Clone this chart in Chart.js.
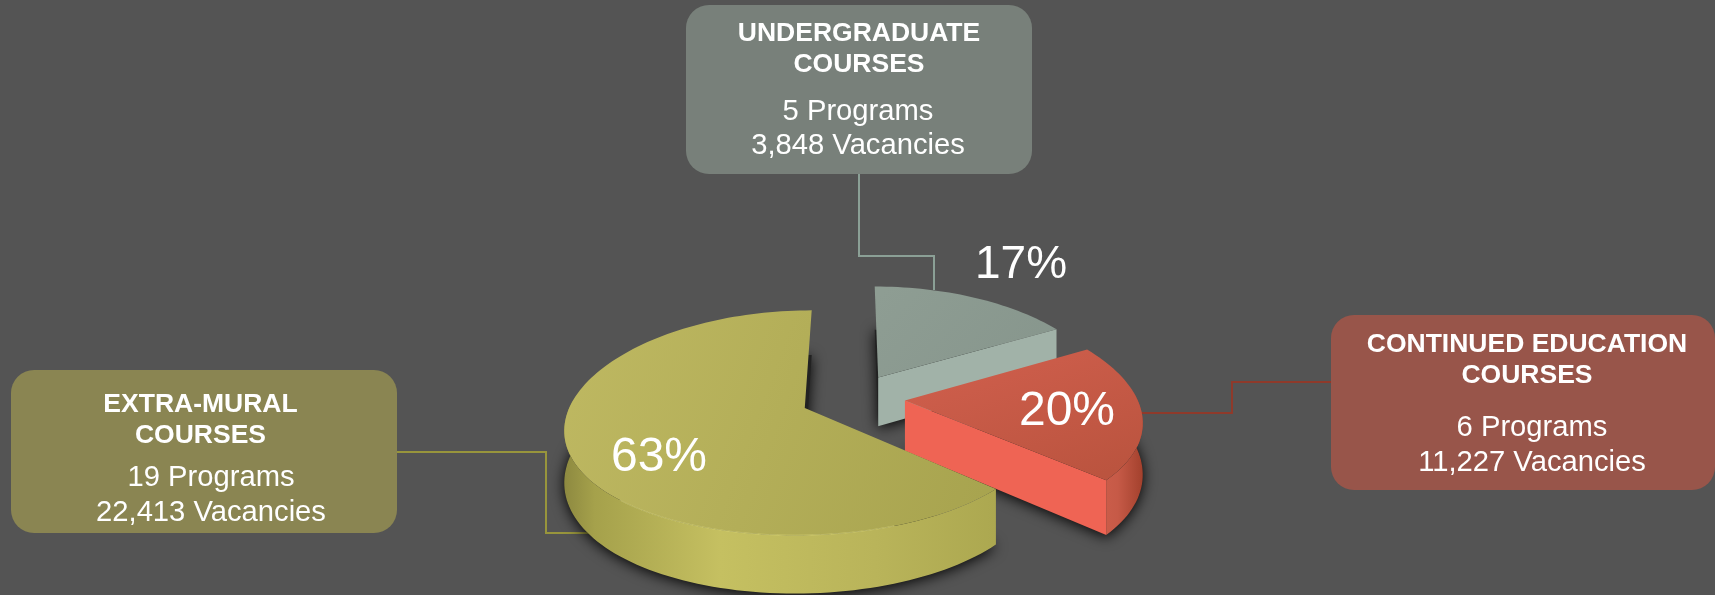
<!DOCTYPE html>
<html>
<head>
<meta charset="utf-8">
<title>Courses</title>
<script src="https://cdn.jsdelivr.net/npm/chart.js@4/dist/chart.umd.min.js"></script>
<style>
    html, body { margin: 0; padding: 0; background: #545454; }
    canvas { display: block; }
</style>
</head>
<body>
<canvas id="coursesChart" width="1715" height="595"></canvas>
<script>
// data
const categories = ['UNDERGRADUATE COURSES', 'CONTINUED EDUCATION COURSES', 'EXTRA-MURAL COURSES'];
const programs = [5, 6, 19];
const vacancies = [3848, 11227, 22413];

// slice colours
const topColors = [['#8e9d93', '#84938a'], ['#d05f4d', '#bb543f'], ['#bfb962', '#a8a44f']];
const frontColors = ['#a1b2a8', '#ef6454', '#aeaa50'];
const rimColors = [
    [[0, '#8d9c92'], [1, '#8d9c92']],
    [[0, '#d0604d'], [0.55, '#c65a47'], [1, '#a3412d']],
    [[0, '#8d8940'], [0.07, '#a5a14b'], [0.36, '#c5c061'], [0.72, '#b9b45a'], [1, '#aca850']]
];

// callout boxes, one per category
const boxes = [
    {
        rect: [686, 5, 346, 169], fill: '#78807a', line: '#8ba096',
        path: [[859, 174], [859, 256], [934, 256], [934, 290]],
        title: [['UNDERGRADUATE', 859, 41], ['COURSES', 859, 72]],
        body: [[858, 120], [858, 154]]
    },
    {
        rect: [1331, 315, 384, 175], fill: '#98554a', line: '#8f3a2b',
        path: [[1331, 382], [1232, 382], [1232, 413], [1140, 413]],
        title: [['CONTINUED EDUCATION', 1527, 352], ['COURSES', 1527, 383]],
        body: [[1532, 436], [1532, 471]]
    },
    {
        rect: [11, 370, 386, 163], fill: '#8a8552', line: '#98953c',
        path: [[397, 452], [546, 452], [546, 533], [610, 533]],
        title: [['EXTRA-MURAL', 200.5, 412], ['COURSES', 200.5, 443]],
        body: [[211, 486], [211, 521]]
    }
];

// where each percent goes
const percentSpots = [[1021, 278, 46], [1067, 425, 48], [659, 471, 48]];

// tilt and perspective of the fake 3D
const TILT = 0.465;
const DEPTH = 1780;
const DEPTH_X = 1400;
const THICK = 50;

function project(el, u, v, z) {
    const s = 1 / (1 - v / DEPTH);
    const sx = 1 / (1 - v / DEPTH_X);
    return [el.x + u * sx, el.y + TILT * v * s + z * s];
}

// frontOnly leaves out the part of the rim that faces away from us
function rimPoints(el, z, reverse, frontOnly) {
    const off = el.options.offset;
    const mid = (el.startAngle + el.endAngle) / 2;
    const n = Math.ceil((el.endAngle - el.startAngle) / 0.03);
    const pts = [];
    for (let i = 0; i <= n; i++) {
        const a = el.startAngle + (el.endAngle - el.startAngle) * i / n;
        if (frontOnly && Math.sin(a) < -0.1) continue;
        pts.push(project(el,
            Math.cos(a) * el.outerRadius + Math.cos(mid) * off,
            Math.sin(a) * el.outerRadius + Math.sin(mid) * off, z));
    }
    return reverse ? pts.reverse() : pts;
}

function apexPoint(el, z) {
    const off = el.options.offset;
    const mid = (el.startAngle + el.endAngle) / 2;
    return project(el, Math.cos(mid) * off, Math.sin(mid) * off, z);
}

function fillPoly(ctx, pts, fill) {
    ctx.beginPath();
    pts.forEach((p, i) => i ? ctx.lineTo(p[0], p[1]) : ctx.moveTo(p[0], p[1]));
    ctx.closePath();
    ctx.fillStyle = fill;
    ctx.fill();
}

function drawSlice(ctx, el, i) {
    const top = rimPoints(el, 0, false, false);
    const bottom = rimPoints(el, THICK, true, false);
    const xs = top.map(p => p[0]);
    const minX = Math.min(...xs);
    const maxX = Math.max(...xs);

    // curved wall
    const rim = ctx.createLinearGradient(minX, 0, maxX, 0);
    rimColors[i].forEach(s => rim.addColorStop(s[0], s[1]));
    const wallTop = rimPoints(el, 0, false, true);
    if (wallTop.length) {
        fillPoly(ctx, wallTop.concat(rimPoints(el, THICK, true, true)), rim);
    }

    // straight wall, only the slices whose end wall faces us
    const apex = apexPoint(el, 0);
    if (i < 2) {
        fillPoly(ctx, [apex, top[top.length - 1], bottom[0], apexPoint(el, THICK)], frontColors[i]);
    }

    // top face
    const face = ctx.createLinearGradient(minX, 300, maxX, 460);
    face.addColorStop(0, topColors[i][0]);
    face.addColorStop(1, topColors[i][1]);
    fillPoly(ctx, top.concat([apex]), face);

    // light rim on the yellow front edge
    if (i === 2) {
        const edge = top.filter(p => p[1] > 500 && p[0] < 900);
        ctx.strokeStyle = 'rgba(226,222,130,0.55)';
        ctx.lineWidth = 1;
        ctx.beginPath();
        edge.forEach((p, k) => k ? ctx.lineTo(p[0], p[1]) : ctx.moveTo(p[0], p[1]));
        ctx.stroke();
    }
}

function drawBox(ctx, box, i) {
    ctx.strokeStyle = box.line;
    ctx.lineWidth = 2;
    ctx.beginPath();
    box.path.forEach((p, k) => k ? ctx.lineTo(p[0], p[1]) : ctx.moveTo(p[0], p[1]));
    ctx.stroke();

    ctx.fillStyle = box.fill;
    ctx.beginPath();
    ctx.roundRect(box.rect[0], box.rect[1], box.rect[2], box.rect[3], 23);
    ctx.fill();

    ctx.fillStyle = '#ffffff';
    ctx.textAlign = 'center';
    ctx.textBaseline = 'alphabetic';
    ctx.font = 'bold 26.5px "Liberation Sans"';
    box.title.forEach(t => ctx.fillText(t[0], t[1], t[2]));
    ctx.font = '29.2px "Liberation Sans"';
    ctx.fillText(programs[i] + ' Programs', box.body[0][0], box.body[0][1]);
    ctx.fillText(vacancies[i].toLocaleString('en-US') + ' Vacancies', box.body[1][0], box.body[1][1]);
}

const pie3d = {
    id: 'pie3d',
    beforeDatasetsDraw(chart) {
        const ctx = chart.ctx;
        const arcs = chart.getDatasetMeta(0).data;
        const total = programs.reduce((a, b) => a + b, 0);

        ctx.save();
        boxes.forEach((box, i) => drawBox(ctx, box, i));

        // soft shadow under the slices
        arcs.forEach(el => {
            ctx.save();
            ctx.shadowColor = 'rgba(0,0,0,0.95)';
            ctx.shadowBlur = 14;
            ctx.shadowOffsetY = 2;
            fillPoly(ctx, rimPoints(el, THICK, false, false).concat([apexPoint(el, THICK)]), '#222222');
            ctx.restore();
        });

        // back to front: gray, red, yellow
        arcs.forEach((el, i) => drawSlice(ctx, el, i));

        ctx.fillStyle = '#ffffff';
        ctx.textAlign = 'center';
        programs.forEach((v, i) => {
            const spot = percentSpots[i];
            ctx.font = spot[2] + 'px "Liberation Sans"';
            ctx.fillText(Math.round(v / total * 100) + '%', spot[0], spot[1]);
        });
        ctx.restore();
        return false;
    }
};

new Chart(document.getElementById('coursesChart').getContext('2d'), {
    type: 'pie',
    data: {
        labels: categories,
        datasets: [{
            data: programs,
            backgroundColor: frontColors,
            borderWidth: 0,
            offset: 52
        }]
    },
    options: {
        responsive: false,
        animation: false,
        radius: 232,
        layout: { padding: { right: 9, top: 201 } },
        plugins: { legend: { display: false }, tooltip: { enabled: false } }
    },
    plugins: [pie3d]
});
</script>
</body>
</html>
